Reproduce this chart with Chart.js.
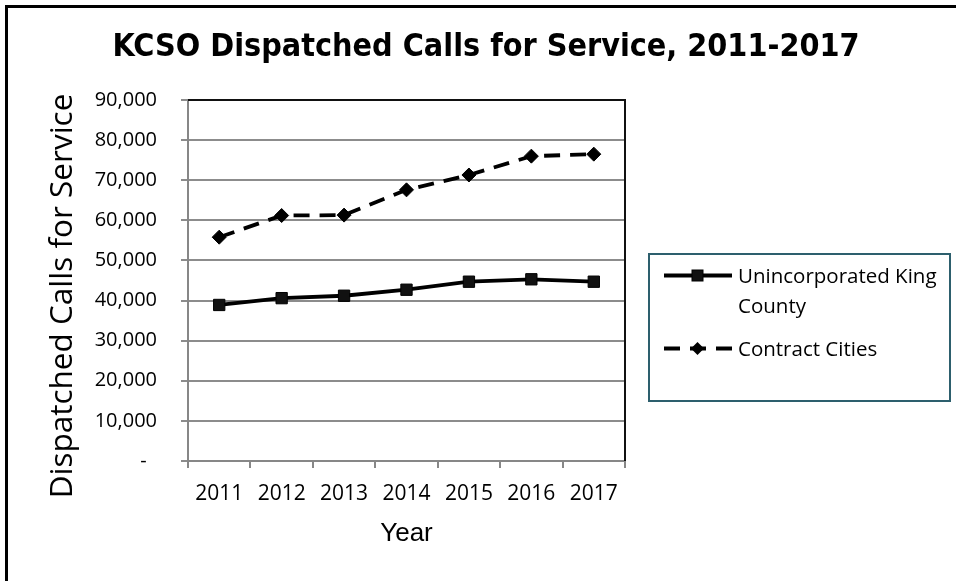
<!DOCTYPE html>
<html>
<head>
<meta charset="utf-8">
<script src="https://cdn.jsdelivr.net/npm/chart.js@4.4.1/dist/chart.umd.min.js"></script>
<style>
  body { margin: 0; background: #fff; }
  #wrap { position: relative; width: 956px; height: 581px; overflow: hidden; }
  #frame { position: absolute; left: 5px; top: 5px; width: 1000px; height: 1000px;
           border-left: 3px solid #000; border-top: 3px solid #000; }
  #legend { position: absolute; left: 648px; top: 253px; width: 299px; height: 145px;
            border: 2px solid #2d5f6d; font-family: "Open Sans", sans-serif; font-size: 20.5px; color: #000; }
  .item { position: absolute; left: 12px; display: flex; align-items: flex-start; }
  .item svg { flex: none; margin-right: 4px; margin-top: 5px; }
  .item span { line-height: 30px; width: 215px; }
</style>
</head>
<body>
<div id="wrap">
  <div id="frame"></div>
  <canvas id="myChart" width="956" height="581"></canvas>
  <div id="legend"></div>
</div>
<script>
const years = ['2011', '2012', '2013', '2014', '2015', '2016', '2017']
const unincorporated = [38900, 40600, 41200, 42700, 44700, 45300, 44700]
const contractCities = [55800, 61200, 61300, 67600, 71300, 76000, 76500]
const yTicks = [0, 10000, 20000, 30000, 40000, 50000, 60000, 70000, 80000, 90000]

const seriesNames = ['Unincorporated King County', 'Contract Cities']
const chartTitle = 'KCSO Dispatched Calls for Service, 2011-2017'
const yTitle = 'Dispatched Calls for Service'

const data = {
    labels: years,
    datasets: [{
        label: seriesNames[0],
        data: unincorporated,
        borderColor: '#000',
        backgroundColor: '#111',
        borderWidth: 3.8,
        pointStyle: 'rect',
        pointRadius: 8,
        pointBorderWidth: 1,
        pointBorderColor: '#000',
        tension: 0
    }, {
        label: seriesNames[1],
        data: contractCities,
        borderColor: '#000',
        backgroundColor: '#000',
        borderWidth: 3.8,
        borderDash: [16, 10],
        pointStyle: 'rectRot',
        pointRadius: 7,
        pointBorderWidth: 1,
        pointBorderColor: '#000',
        tension: 0
    }]
}

// chart title, y title, and the black top/right edge of the plot
const extras = {
    id: 'extras',
    afterDraw(chart) {
        const { ctx, chartArea: a } = chart
        ctx.save()
        ctx.strokeStyle = '#111'
        ctx.lineWidth = 2
        ctx.beginPath()
        ctx.moveTo(a.left, a.top)
        ctx.lineTo(a.right, a.top)
        ctx.lineTo(a.right, a.bottom)
        ctx.stroke()

        ctx.fillStyle = '#000'
        ctx.textAlign = 'center'
        ctx.textBaseline = 'middle'
        ctx.font = 'bold 32px "DejaVu Sans Condensed", Lato, sans-serif'
        ctx.fillText(chartTitle, 486, 48)

        ctx.translate(63, 296)
        ctx.rotate(-Math.PI / 2)
        ctx.font = '31.5px "Open Sans", sans-serif'
        ctx.fillText(yTitle, 0, 0)
        ctx.restore()
    }
}

const config = {
    type: 'line',
    data: data,
    options: {
        responsive: false,
        animation: false,
        layout: { padding: { left: 0, right: 331, top: 100, bottom: 0 } },
        plugins: {
            legend: { display: false },
            tooltip: { enabled: false },
            title: { display: false }
        },
        scales: {
            x: {
                offset: true,
                grid: { offset: true, drawOnChartArea: false, tickLength: 7, color: '#878787', lineWidth: 2 },
                border: { color: '#878787', width: 2 },
                ticks: { color: '#000', padding: 13, font: { family: 'Open Sans', size: 21 }, maxRotation: 0 },
                title: {
                    display: true, text: 'Year', color: '#000',
                    font: { family: 'Liberation Sans', size: 26, lineHeight: 1.2 },
                    padding: { top: 0, bottom: 32 }
                },
                afterFit(scale) { scale.height = 120 }
            },
            y: {
                min: 0,
                max: 90000,
                afterBuildTicks(scale) { scale.ticks = yTicks.map(v => ({ value: v })) },
                grid: { tickLength: 7, color: '#8c8c8c', lineWidth: 2 },
                border: { color: '#878787', width: 2 },
                ticks: {
                    color: '#000', padding: 24,
                    font: { family: 'Open Sans', size: 20 },
                    callback: v => v === 0 ? '-  ' : v.toLocaleString('en-US')
                },
                afterFit(scale) { scale.width = 188 }
            }
        }
    },
    plugins: [extras]
}

const myChart = new Chart(document.getElementById('myChart'), config)

// html legend, symbols follow the dataset styles
function legendSymbol(ds) {
    const dash = ds.borderDash ? `stroke-dasharray="${ds.borderDash.join(' ')}"` : ''
    let mark
    if (ds.pointStyle === 'rect') {
        mark = `<rect x="30" y="5" width="11" height="11" fill="${ds.backgroundColor}" stroke="#000"/>`
    } else {
        mark = `<polygon points="35.5,4 42,10.5 35.5,17 29,10.5" fill="${ds.backgroundColor}"/>`
    }
    return `<svg width="72" height="21"><line x1="2" y1="10.5" x2="70" y2="10.5" stroke="${ds.borderColor}" stroke-width="${ds.borderWidth}" ${dash}/>${mark}</svg>`
}

const tops = [5, 78]
document.getElementById('legend').innerHTML = data.datasets.map((ds, i) =>
    `<div class="item" style="top:${tops[i]}px">${legendSymbol(ds)}<span>${ds.label}</span></div>`
).join('')
</script>
</body>
</html>
